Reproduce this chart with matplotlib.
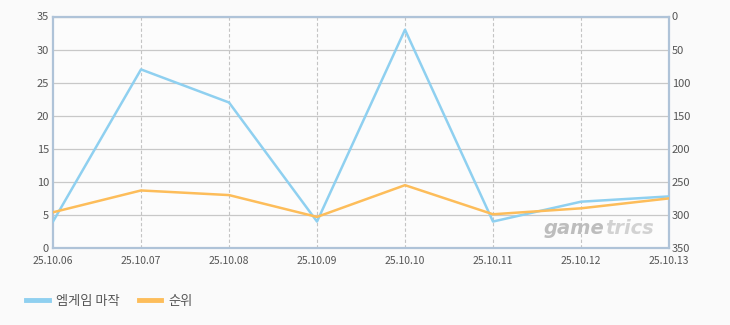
import matplotlib
matplotlib.use("Agg")
import matplotlib.pyplot as plt

plt.rcParams["font.family"] = ["Noto Sans CJK KR", "DejaVu Sans"]

dates = ["25.10.06", "25.10.07", "25.10.08", "25.10.09",
         "25.10.10", "25.10.11", "25.10.12", "25.10.13"]
players = [4, 27, 22, 4, 33, 4, 7, 7.8]
rank = [296, 263, 270, 303, 255, 299, 290, 275]

blue = "#8fd0f0"
orange = "#fdbd5a"
frame = "#afc3d8"
txt = "#555555"

fig = plt.figure(figsize=(7.3, 3.25), dpi=100)
fig.patch.set_facecolor("#fafafa")
ax = fig.add_axes([53 / 730, 1 - 248 / 325, 616 / 730, 231.5 / 325])
ax.set_facecolor("#fcfcfc")
x = list(range(len(dates)))

ax.set_xlim(0, len(dates) - 1)
ax.set_ylim(0, 35)
ax.set_yticks(range(0, 36, 5))
ax.set_xticks(x)
ax.set_xticklabels(dates, fontsize=7.5)
ax.grid(axis="y", color="#c8c8c8", lw=0.9)
for xi in x[1:-1]:
    ax.axvline(xi, color="#c4c4c4", lw=0.8, ls=(0, (3, 2)), zorder=1)
ax.tick_params(axis="y", length=0, labelsize=8, colors=txt, pad=3)
ax.tick_params(axis="x", length=0, colors=txt, pad=6)
for s in ax.spines.values():
    s.set_color(frame)
    s.set_linewidth(1.6)

ax2 = ax.twinx()
ax2.set_ylim(350, 0)
ax2.set_yticks(range(0, 351, 50))
ax2.tick_params(length=0, labelsize=8, colors=txt, pad=2)
for s in ax2.spines.values():
    s.set_visible(False)

ax.plot(x, players, color=blue, lw=1.8, zorder=3, label="엠게임 마작")
ax2.plot(x, rank, color=orange, lw=1.8, zorder=3, label="순위")

# watermark, two-tone like the original
wm = ax2.text(0.895, 0.045, "game", transform=ax.transAxes, ha="right", va="bottom",
              fontsize=14, fontstyle="italic", fontweight="bold", color="#bdbdbd",
              family="DejaVu Sans", zorder=2)
ax2.annotate("trics", xycoords=wm, xy=(1, 0), xytext=(0.5, 0), textcoords="offset points",
             va="bottom", ha="left",
             fontsize=14, fontstyle="italic", fontweight="bold", color="#d2d2d2",
             family="DejaVu Sans", zorder=2)

# legend below the chart
h1, l1 = ax.get_legend_handles_labels()
h2, l2 = ax2.get_legend_handles_labels()
fig.legend(h1 + h2, l1 + l2, loc="center left", bbox_to_anchor=(0.02, 1 - 301 / 325),
           ncol=2, frameon=False, fontsize=9.5, handlelength=1.7, handletextpad=0.5,
           columnspacing=1.5, labelcolor=txt)
for line in fig.legends[0].get_lines():
    line.set_linewidth(3.5)

fig.savefig("out.png", dpi=100, facecolor=fig.get_facecolor())
